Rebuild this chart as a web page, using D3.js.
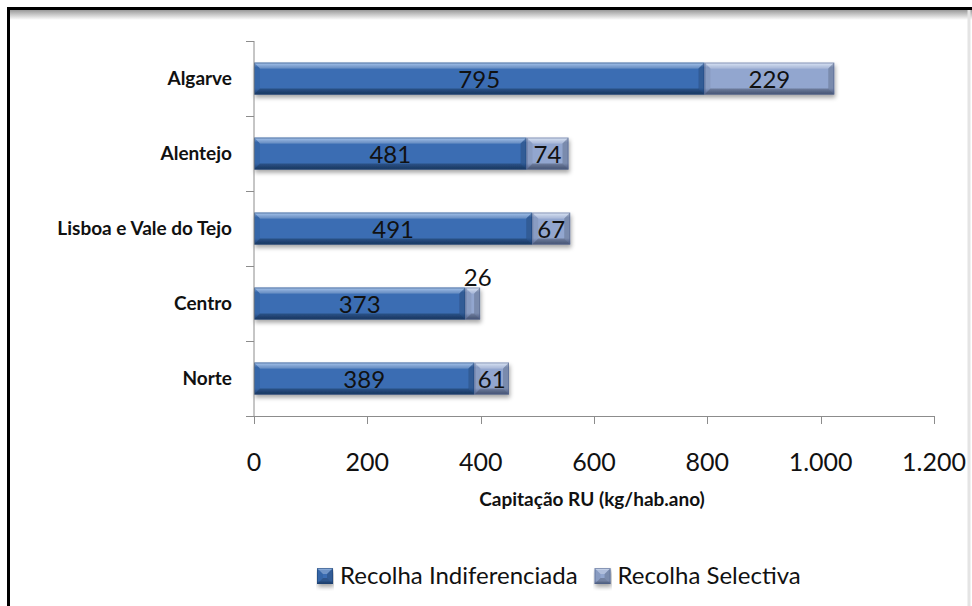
<!DOCTYPE html>
<html>
<head>
<meta charset="utf-8">
<script src="https://cdn.jsdelivr.net/npm/d3@7"></script>
<style>
  body { margin: 0; background: #fff; }
  svg { display: block; font-family: Lato, "Open Sans", sans-serif; }
</style>
</head>
<body>
<div class="plot1"></div>
<script>
// data
var regions = ["Algarve", "Alentejo", "Lisboa e Vale do Tejo", "Centro", "Norte"];
var indiferenciada = [795, 481, 491, 373, 389];
var selectiva = [229, 74, 67, 26, 61];
var seriesNames = ["Recolha Indiferenciada", "Recolha Selectiva"];
var xTicks = [0, 200, 400, 600, 800, 1000, 1200];

var width = 972, height = 606;
var margin = {left: 254, right: 38, top: 41, bottom: 190};

var svg = d3.select(".plot1").append("svg")
  .attr("width", width)
  .attr("height", height);

var defs = svg.append("defs");

var shadow = defs.append("filter").attr("id", "shadow")
  .attr("x", "-5%").attr("y", "-20%").attr("width", "110%").attr("height", "160%");
shadow.append("feDropShadow")
  .attr("dx", 1).attr("dy", 3).attr("stdDeviation", 2)
  .attr("flood-color", "#000").attr("flood-opacity", 0.35);

var topShade = defs.append("linearGradient").attr("id", "topShade")
  .attr("x1", 0).attr("x2", 0).attr("y1", 0).attr("y2", 1);
topShade.append("stop").attr("offset", "0%").attr("stop-color", "#9a9a9a");
topShade.append("stop").attr("offset", "100%").attr("stop-color", "#fff");

var colors = [
  {base: "#3a6db3", light: "#8ab2e6", dark: "#1f4478"},
  {base: "#92a6cf", light: "#d0ddf3", dark: "#55668f"}
];
colors.forEach(function(c, i) {
  var g = defs.append("linearGradient").attr("id", "grad" + i)
    .attr("x1", 0).attr("x2", 0).attr("y1", 0).attr("y2", 1);
  g.append("stop").attr("offset", "0%").attr("stop-color", c.light);
  g.append("stop").attr("offset", "15%").attr("stop-color", c.base);
  g.append("stop").attr("offset", "80%").attr("stop-color", c.base);
  g.append("stop").attr("offset", "100%").attr("stop-color", c.dark);
});

// frame
svg.append("rect").attr("x", 9).attr("y", 10).attr("width", width - 9).attr("height", 10)
  .attr("fill", "url(#topShade)");
svg.append("line").attr("x1", 8).attr("x2", width).attr("y1", 8.5).attr("y2", 8.5)
  .attr("stroke", "#000").attr("stroke-width", 3);
svg.append("line").attr("x1", 8.5).attr("x2", 8.5).attr("y1", 7).attr("y2", height)
  .attr("stroke", "#000").attr("stroke-width", 3);
svg.append("line").attr("x1", 969).attr("x2", 969).attr("y1", 10).attr("y2", height)
  .attr("stroke", "#e4e4e4").attr("stroke-width", 3);

var x = d3.scaleLinear()
  .domain([0, 1200])
  .range([margin.left, width - margin.right]);

var y = d3.scaleBand()
  .domain(regions)
  .range([margin.top, height - margin.bottom])
  .paddingInner(0.573)
  .paddingOuter(0.287);

var axisBottom = y.range()[1];

// bevelled bar
function bevelBar(g, x0, x1, y0, y1, ci) {
  var b = Math.min(6, (x1 - x0) / 2);
  var bar = g.append("g");
  bar.append("rect")
    .attr("x", x0).attr("y", y0).attr("width", x1 - x0).attr("height", y1 - y0)
    .attr("fill", "url(#grad" + ci + ")");
  var faces = [
    {pts: [[x0, y0], [x1, y0], [x1 - b, y0 + b], [x0 + b, y0 + b]], fill: "#fff", op: 0.28},
    {pts: [[x0, y0], [x0 + b, y0 + b], [x0 + b, y1 - b], [x0, y1]], fill: "#000", op: 0.06},
    {pts: [[x1, y0], [x1, y1], [x1 - b, y1 - b], [x1 - b, y0 + b]], fill: "#000", op: 0.16},
    {pts: [[x0, y1], [x1, y1], [x1 - b, y1 - b], [x0 + b, y1 - b]], fill: "#000", op: 0.22}
  ];
  bar.selectAll("polygon")
    .data(faces)
    .join("polygon")
    .attr("points", function(d) { return d.pts.map(function(p) { return p.join(","); }).join(" "); })
    .attr("fill", function(d) { return d.fill; })
    .attr("fill-opacity", function(d) { return d.op; });
  bar.append("rect")
    .attr("x", x0 + 0.5).attr("y", y0 + 0.5).attr("width", x1 - x0 - 1).attr("height", y1 - y0 - 1)
    .attr("fill", "none").attr("stroke", colors[ci].dark).attr("stroke-opacity", 0.6);
}

// bars
var barsG = svg.append("g").attr("filter", "url(#shadow)");
var labelsG = svg.append("g");

regions.forEach(function(r, i) {
  var y0 = y(r), y1 = y(r) + y.bandwidth();
  var vals = [indiferenciada[i], selectiva[i]];
  var start = 0;
  vals.forEach(function(v, ci) {
    var xa = x(start), xb = x(start + v);
    bevelBar(barsG, xa, xb, y0, y1, ci);
    // too narrow for the label: Excel put it above the bar
    var narrow = (xb - xa) < 22;
    labelsG.append("text")
      .attr("x", (xa + xb) / 2 + (narrow ? 5 : 0))
      .attr("y", narrow ? y0 - 1 : (y0 + y1) / 2 + 1)
      .attr("dy", narrow ? 0 : "0.36em")
      .attr("text-anchor", "middle")
      .style("font-size", "24px")
      .style("fill", "#111")
      .text(v);
    start += v;
  });
});

// y axis
svg.append("line")
  .attr("x1", x(0)).attr("x2", x(0))
  .attr("y1", margin.top).attr("y2", axisBottom)
  .attr("stroke", "#8c8c8c");

var step = y.step();
var boundaries = d3.range(regions.length + 1).map(function(i) { return margin.top + i * step; });
svg.selectAll(".ytick")
  .data(boundaries)
  .join("line")
  .attr("x1", x(0) - 8).attr("x2", x(0))
  .attr("y1", function(d) { return Math.round(d) + 0.5; })
  .attr("y2", function(d) { return Math.round(d) + 0.5; })
  .attr("stroke", "#8c8c8c");

svg.selectAll(".ylab")
  .data(regions)
  .join("text")
  .attr("x", 232)
  .attr("y", function(d) { return y(d) + y.bandwidth() / 2; })
  .attr("dy", "0.35em")
  .attr("text-anchor", "end")
  .style("font-size", "19px")
  .style("font-weight", "bold")
  .style("fill", "#111")
  .text(function(d) { return d; });

// x axis
svg.append("line")
  .attr("x1", x(0)).attr("x2", x(1200))
  .attr("y1", Math.round(axisBottom) + 0.5).attr("y2", Math.round(axisBottom) + 0.5)
  .attr("stroke", "#8c8c8c");

svg.selectAll(".xtick")
  .data(xTicks)
  .join("line")
  .attr("x1", function(d) { return Math.round(x(d)) + 0.5; })
  .attr("x2", function(d) { return Math.round(x(d)) + 0.5; })
  .attr("y1", axisBottom).attr("y2", axisBottom + 8)
  .attr("stroke", "#8c8c8c");

var fmt = d3.formatLocale({decimal: ",", thousands: ".", grouping: [3], currency: ["", ""]}).format(",d");
svg.selectAll(".xlab")
  .data(xTicks)
  .join("text")
  .attr("x", function(d) { return x(d); })
  .attr("y", 471)
  .attr("text-anchor", "middle")
  .style("font-size", "25px")
  .style("fill", "#111")
  .text(function(d) { return fmt(d); });

svg.append("text")
  .attr("x", 592).attr("y", 506)
  .attr("text-anchor", "middle")
  .style("font-size", "19px")
  .style("font-weight", "bold")
  .style("fill", "#111")
  .text("Capitação RU (kg/hab.ano)");

// legend
var legend = svg.append("g");
var lx = 317;
seriesNames.forEach(function(name, i) {
  var sw = legend.append("g").attr("filter", "url(#shadow)");
  bevelBar(sw, lx, lx + 16, 568, 584, i);
  var t = legend.append("text")
    .attr("x", lx + 23).attr("y", 584)
    .style("font-size", "24px")
    .style("fill", "#111")
    .text(name);
  lx += 23 + t.node().getComputedTextLength() + 17;
});
</script>
</body>
</html>
